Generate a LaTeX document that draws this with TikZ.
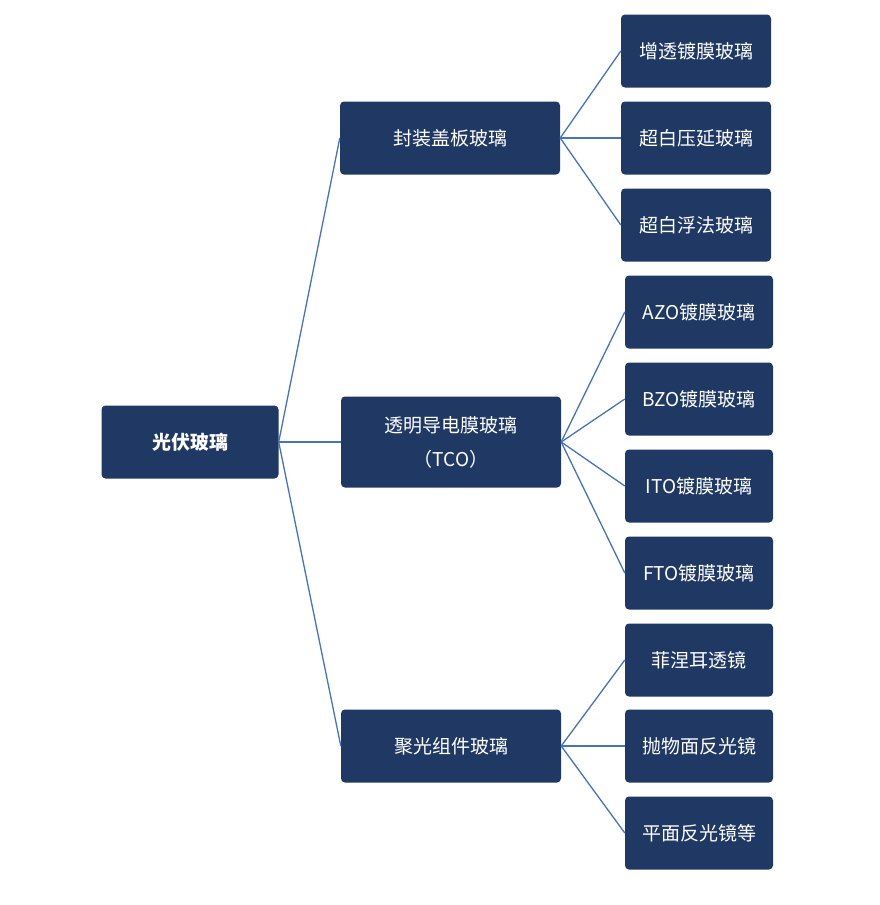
\documentclass[tikz,border=0pt]{standalone}
\usepackage{fontspec}
\setmainfont{Noto Sans CJK SC}
\usetikzlibrary{positioning}
\definecolor{navy}{RGB}{31,56,100}
\definecolor{lline}{RGB}{68,114,196}
\tikzstyle{box} = [rectangle, fill=navy, text=white, rounded corners=4pt,
  minimum height=73pt, text centered, inner sep=2pt, font=\fontsize{19}{34}\selectfont]
\tikzstyle{leaf} = [box, minimum width=150pt]
\tikzstyle{mid} = [box, minimum width=220pt]
\tikzstyle{line} = [draw, color=lline, line width=1.3pt]
\begin{document}
\begin{tikzpicture}[x=1pt,y=-1pt]
  \useasboundingbox (0,0) rectangle (880,905);

  % root and middle level
  \node [box, minimum width=177pt, font=\fontsize{19}{22}\selectfont\bfseries] (root) at (190,442) {光伏玻璃};
  \node [mid] (cover) at (450,138) {封装盖板玻璃};
  \node [mid, minimum height=91pt, text width=210pt] (tco) at (451,442) {透明导电膜玻璃\\（TCO）};
  \node [mid] (conc) at (451,746) {聚光组件玻璃};

  % leaves
  \node [leaf] (ar) at (696,51) {增透镀膜玻璃};
  \node [leaf] (roll) at (696,138) {超白压延玻璃};
  \node [leaf] (float) at (696,225) {超白浮法玻璃};
  \node [leaf, minimum width=148pt] (azo) at (699,312) {AZO镀膜玻璃};
  \node [leaf, minimum width=148pt] (bzo) at (699,399) {BZO镀膜玻璃};
  \node [leaf, minimum width=148pt] (ito) at (699,486) {ITO镀膜玻璃};
  \node [leaf, minimum width=148pt] (fto) at (699,573) {FTO镀膜玻璃};
  \node [leaf, minimum width=148pt] (fres) at (699,660) {菲涅耳透镜};
  \node [leaf, minimum width=148pt] (para) at (699,746) {抛物面反光镜};
  \node [leaf, minimum width=148pt] (flat) at (699,833) {平面反光镜等};

  % connectors
  \foreach \t in {cover,tco,conc}
    \path [line] (root.east) -- (\t.west);
  \foreach \t in {ar,roll,float}
    \path [line] (cover.east) -- (\t.west);
  \foreach \t in {azo,bzo,ito,fto}
    \path [line] (tco.east) -- (\t.west);
  \foreach \t in {fres,para,flat}
    \path [line] (conc.east) -- (\t.west);
\end{tikzpicture}
\end{document}
